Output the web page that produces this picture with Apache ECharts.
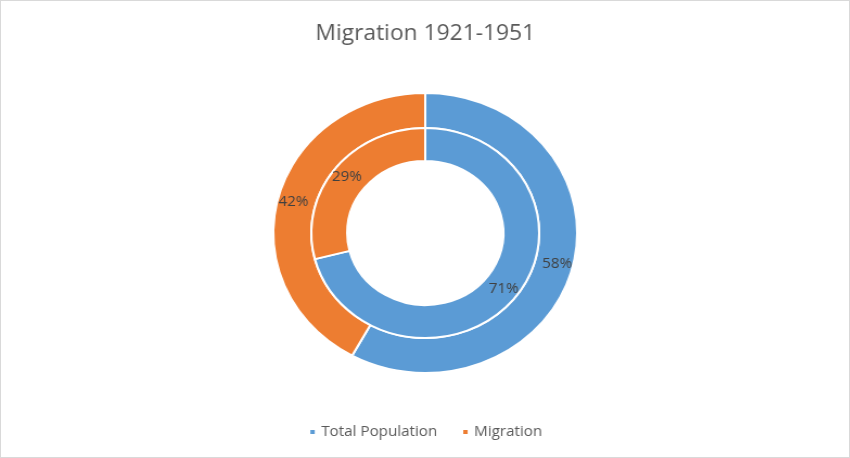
<!DOCTYPE html>
<html>
<head>
<meta charset="utf-8">
<script src="https://cdn.jsdelivr.net/npm/echarts@6/dist/echarts.min.js"></script>
<style>
    html, body { margin: 0; padding: 0; background: #fff; }
    #frame { width: 848px; height: 456px; border: 1px solid #d9d9d9; overflow: hidden; }
    /* the reference is a little wider than tall, so stretch the drawing sideways */
    #chartMain { width: 782px; height: 456px; transform: scaleX(1.085); transform-origin: 0 0; }
</style>
</head>
<body>
<div id="frame"><div id="chartMain"></div></div>
<script>
const categories = ['Total Population', 'Migration'];
const outerValues = [58, 42];
const innerValues = [71, 29];
const colors = ['#5B9BD5', '#ED7D31'];

const migrationChartInit = () => {
    var chartDom = document.getElementById('chartMain');
    var myChart = echarts.init(chartDom);
    var option;

    const toData = (values) => values.map((v, i) => ({ value: v, name: categories[i] }));

    const ringStyle = {
        type: 'pie',
        center: [391, 232],
        startAngle: 90,
        clockwise: true,
        avoidLabelOverlap: false,
        silent: true,
        itemStyle: {
            borderColor: '#fff',
            borderWidth: 2
        },
        label: {
            show: true,
            position: 'inside',
            formatter: '{c}%',
            color: '#404040',
            fontSize: 14,
            fontFamily: 'Open Sans'
        },
        labelLine: { show: false }
    };

    option = {
        color: colors,
        animation: false,
        title: {
            text: 'Migration 1921-1951',
            left: 'center',
            top: 18,
            textStyle: {
                color: '#595959',
                fontSize: 21,
                fontWeight: 'normal',
                fontFamily: 'Open Sans'
            }
        },
        legend: {
            data: categories,
            bottom: 13,
            left: 'center',
            icon: 'rect',
            itemWidth: 6,
            itemHeight: 6,
            itemGap: 22,
            textStyle: {
                color: '#595959',
                fontSize: 14,
                fontFamily: 'Open Sans'
            }
        },
        series: [
            Object.assign({}, ringStyle, {
                name: 'Outer',
                radius: [105, 140],
                data: toData(outerValues)
            }),
            Object.assign({}, ringStyle, {
                name: 'Inner',
                radius: [72, 105],
                data: toData(innerValues)
            })
        ]
    };

    option && myChart.setOption(option);
};

migrationChartInit();
</script>
</body>
</html>
